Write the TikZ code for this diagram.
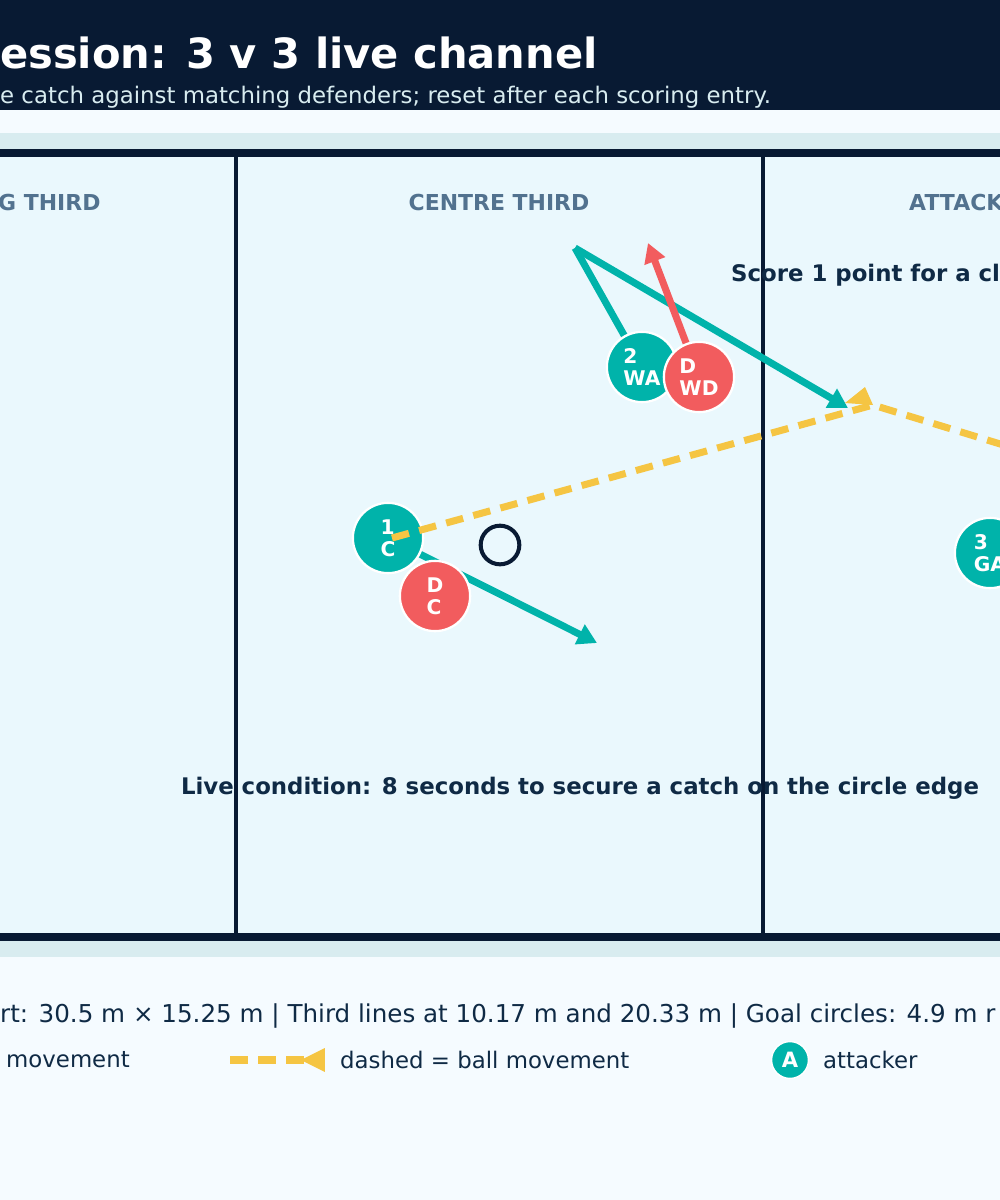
\documentclass[tikz,border=0pt]{standalone}
\usepackage{fontspec}
\setmainfont{DejaVu Sans}
\usetikzlibrary{arrows.meta}
\definecolor{navy}{HTML}{081A33}
\definecolor{ink}{HTML}{0F2A45}
\definecolor{teal}{HTML}{00B3AA}
\definecolor{coral}{HTML}{F25C5E}
\definecolor{gold}{HTML}{F5C543}
\definecolor{court}{HTML}{EAF8FD}
\definecolor{band}{HTML}{D8ECF0}
\definecolor{paper}{HTML}{F5FBFF}
\definecolor{slate}{HTML}{52728F}
\tikzset{
  att/.style={circle, fill=teal, draw=white, line width=1.3pt, minimum size=40pt, inner sep=0pt,
    text=white, font=\bfseries\fontsize{11.5}{12.5}\selectfont, align=left},
  def/.style={att, fill=coral},
  run/.style={teal, line width=4pt, -{Triangle[length=11pt,width=12pt]}},
  chase/.style={coral, line width=4pt, -{Triangle[length=11pt,width=12pt]}},
  pass/.style={gold, line width=4pt, dash pattern=on 10pt off 6pt},
  zone/.style={text=slate, font=\bfseries\fontsize{12.5}{13}\selectfont},
  note/.style={text=ink, font=\bfseries\fontsize{13}{14}\selectfont, anchor=west},
  foot/.style={text=ink, anchor=west, font=\fontsize{13}{14}\selectfont},
}
\begin{document}
\begin{tikzpicture}[x=0.02cm,y=-0.02cm]
    \useasboundingbox (0,0) rectangle (1000,1200);
    \clip (0,0) rectangle (1000,1200);
    \fill[paper] (0,0) rectangle (1000,1200);
    \fill[navy] (0,0) rectangle (1000,110);
    \fill[band] (0,133) rectangle (1000,957);
    \fill[court] (0,153) rectangle (1000,937);
    \draw[navy, line width=4.5pt] (-10,153) -- (1010,153);
    \draw[navy, line width=4.5pt] (-10,937) -- (1010,937);
    \draw[navy, line width=2.3pt] (236,153) -- (236,937);
    \draw[navy, line width=2.3pt] (763,153) -- (763,937);

    % header
    \node[anchor=west, text=white, font=\bfseries\fontsize{23.7}{26}\selectfont] (title) at (-6,53) {ession: 3 v 3 live channel};
    \node[anchor=west, text=band, font=\fontsize{13}{14}\selectfont] (sub) at (-6,97) {e catch against matching defenders; reset after each scoring entry.};

    % thirds
    \node[zone, anchor=west] (defl) at (-8,203) {G THIRD};
    \node[zone] (cenl) at (499,203) {CENTRE THIRD};
    \node[zone, anchor=west] (attl) at (903,203) {ATTACK};
    \node[note] (score) at (725,275) {Score 1 point for a cl};
    \node[note, anchor=center] (live) at (580,788) {Live condition: 8 seconds to secure a catch on the circle edge};

    % ball and players
    \node[circle, draw=navy, line width=2.3pt, minimum size=22pt] (ball) at (500,545) {};
    \coordinate (c1) at (575,248);
    \coordinate (t1) at (848,408);
    \coordinate (t2) at (597,643);
    \coordinate (t3) at (648,243);
    \coordinate (p1) at (873,405);
    \coordinate (p2) at (1010,447);
    \draw[run, -] (642,367) -- (c1);
    \draw[run, line join=round] (c1) -- (t1);
    \draw[chase] (699,377) -- (t3);
    \draw[run] (388,538) -- (t2);
    \node[def] (dc) at (435,596) {D\\C};
    \node[att] (c) at (388,538) {1\\C};
    \node[att] (wa) at (642,367) {2\\WA};
    \node[def] (wd) at (699,377) {D\\WD};
    \node[att] (ga) at (990,553) {3\\GA};
    \draw[pass] (392,538) -- (p1) -- (p2);
    \fill[gold] (p1) -- ++(-28,-2) -- ++(20,-16) -- cycle;

    % footer
    \node[foot, font=\fontsize{14}{15}\selectfont] (dims) at (-6,1016) {rt: 30.5 m × 15.25 m | Third lines at 10.17 m and 20.33 m | Goal circles: 4.9 m r};
    \node[foot] (lg1) at (0,1060) {movement};
    \coordinate (la) at (230,1060);
    \coordinate (lb) at (343,1060);
    \draw[pass] (la) -- ([xshift=-20]lb);
    \fill[gold] ([xshift=-24]lb) -- ++(24,-12) -- ++(0,24) -- cycle;
    \node[foot] (lg2) at (334,1060) {dashed = ball movement};
    \node[att, minimum size=21pt, line width=0.8pt, font=\bfseries\fontsize{12}{13}\selectfont] (lga) at (790,1060) {A};
    \node[foot] (lg3) at (817,1060) {attacker};
\end{tikzpicture}
\end{document}
